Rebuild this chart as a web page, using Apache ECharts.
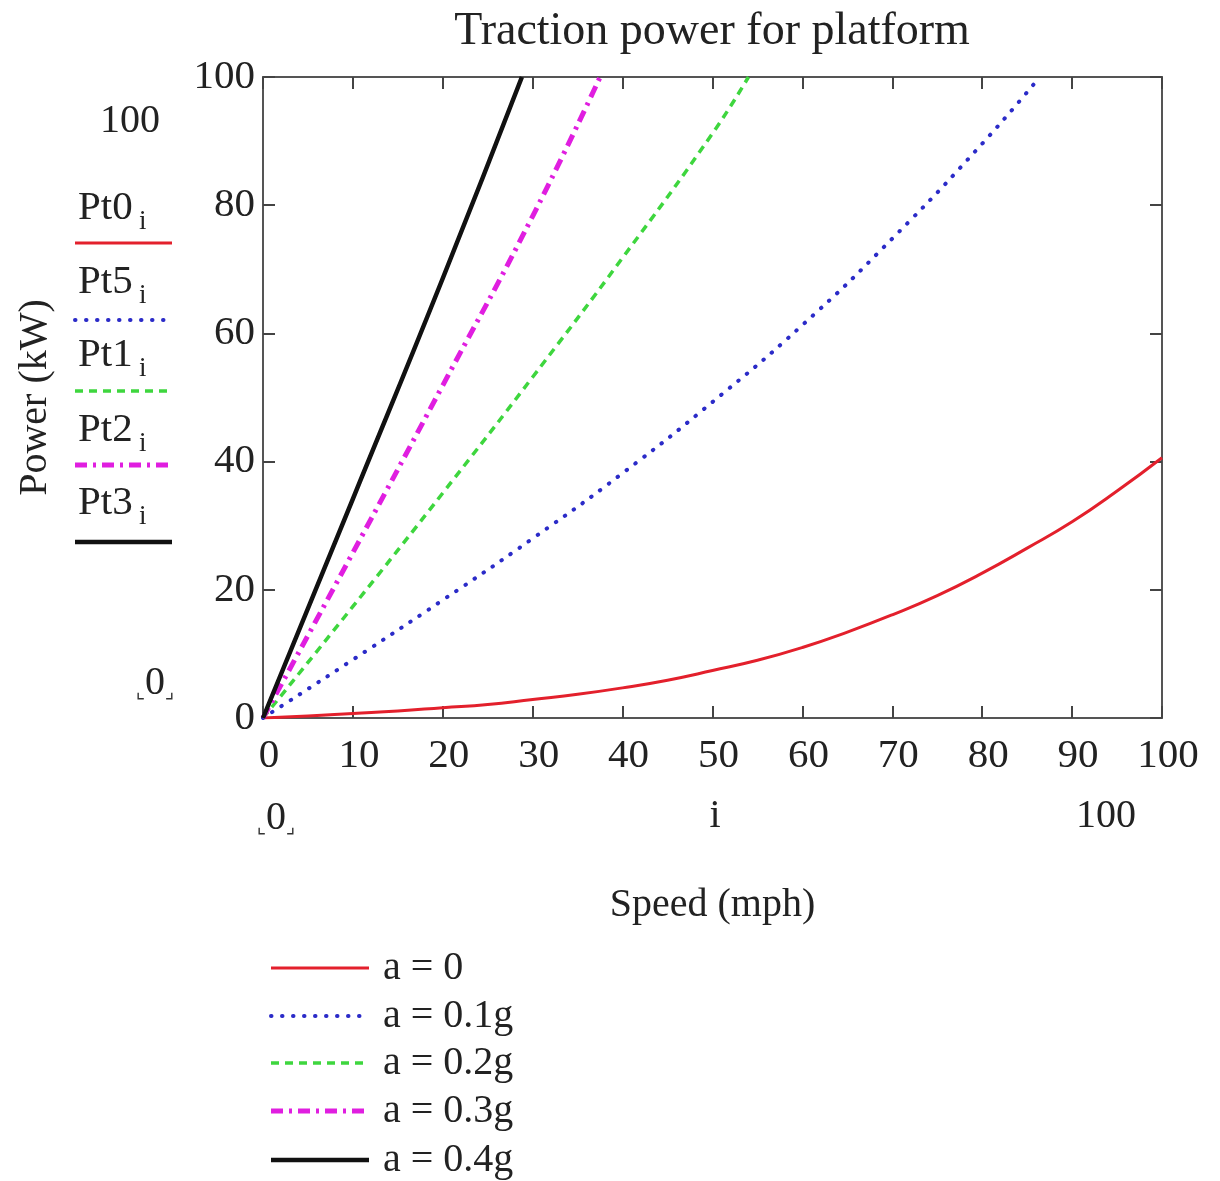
<!DOCTYPE html>
<html>
<head>
<meta charset="utf-8">
<title>Traction power for platform</title>
<script src="https://cdn.jsdelivr.net/npm/echarts@6/dist/echarts.min.js"></script>
<style>
html,body{margin:0;padding:0;background:#fff;}
#chart{width:1220px;height:1181px;}
</style>
</head>
<body>
<div id="chart"></div>
<script>
// speed (mph) / power (kW)
var speed0 = [0,5,10,15,20,25,30,35,40,45,50,55,60,65,70,75,80,85,90,95,100];
var pt0 = [0,0.3,0.7,1.1,1.6,2.1,2.9,3.7,4.7,5.9,7.4,9.0,11.0,13.4,16.1,19.1,22.6,26.5,30.6,35.4,40.6];
var speed5 = [0,10,20,30,40,50,60,70,80,86.4];
var pt5 = [0,9.1,18.4,28.0,38.2,49.3,61.3,74.8,89.6,100];
var speed1 = [0,10,20,30,40,50,54];
var pt1 = [0,17.4,35.1,53.2,71.8,91.2,100];
var speed2 = [0,10,20,30,37.5];
var pt2 = [0,25.8,51.9,78.3,100];
var speed3 = [0,10,20,28.8];
var pt3 = [0,34.2,68.6,100];
var names = ['a = 0','a = 0.1g','a = 0.2g','a = 0.3g','a = 0.4g'];
var ptLabels = ['Pt0','Pt5','Pt1','Pt2','Pt3'];
var colors = ['#e3202c','#2b2bc8','#3ed63e','#e01ee0','#111111'];

var FONT = '"Liberation Serif","DejaVu Serif",serif';

function pairs(xs, ys){
	var out = [];
	for(var i=0;i<xs.length;i++){
		out.push([xs[i], ys[i]]);
	}
	return out;
}

var styles = [
	{width:3, type:'solid', cap:'butt'},
	{width:4, type:[0.5,10.5], cap:'round'},
	{width:3.5, type:[8,6], cap:'butt'},
	{width:5, type:[12,6,3,6], cap:'butt'},
	{width:4.5, type:'solid', cap:'butt'}
];
var sets = [[speed0,pt0],[speed5,pt5],[speed1,pt1],[speed2,pt2],[speed3,pt3]];
var Series = [];
for(var k=0;k<sets.length;k++){
	Series.push({
		name: names[k],
		type: 'line',
		xAxisIndex: 0,
		yAxisIndex: 0,
		smooth: true,
		showSymbol: false,
		symbol: 'none',
		animation: false,
		data: pairs(sets[k][0], sets[k][1]),
		itemStyle: {color: colors[k]},
		lineStyle: {color: colors[k], width: styles[k].width, type: styles[k].type, cap: styles[k].cap}
	});
}

var axisLine = {show:true, onZero:false, lineStyle:{color:'#555', width:2}};
var tick = {show:true, inside:true, length:12, lineStyle:{color:'#444', width:2}};

function legendLine(x1, x2, y, k){
	return {type:'line', shape:{x1:x1, y1:y, x2:x2, y2:y},
		style:{stroke:colors[k], lineWidth:styles[k].width, lineCap:styles[k].cap,
			lineDash: styles[k].type==='solid' ? null : styles[k].type}};
}
function label(txt, x, y, size, align){
	return {type:'text', x:x, y:y, style:{text:txt, font:size+'px '+FONT, fill:'#222',
		textAlign:align || 'center', textVerticalAlign:'middle'}};
}

var ptTextY = [208,282,355,430,503];
var ptLineY = [243,320,391,465,542];
var legY = [968,1016,1063,1111,1160];
var graphics = [];
graphics.push(label('Traction power for platform', 712, 32, 46));
graphics.push(label('100', 130, 121, 40));
for(var j=0;j<ptLabels.length;j++){
	graphics.push(label(ptLabels[j], 78, ptTextY[j], 41, 'left'));
	graphics.push(label('i', 139, ptTextY[j]+14, 27, 'left'));
	graphics.push(legendLine(75, 172, ptLineY[j], j));
	graphics.push(legendLine(271, 369, legY[j], j));
	graphics.push(label(names[j], 383, legY[j], 40, 'left'));
}
function bracketZero(x, y){
	return {type:'text', x:x, y:y, style:{
		text:'{b|⌞}0{b|⌟}', textAlign:'center', textVerticalAlign:'middle',
		rich:{b:{fontSize:20, fontFamily:'"DejaVu Sans"', fill:'#333', verticalAlign:'bottom'}},
		font:'40px '+FONT, fill:'#222'}};
}
graphics.push(bracketZero(155,683));
graphics.push(bracketZero(276,818));
graphics.push(label('i', 715, 816, 40));
graphics.push(label('100', 1106, 816, 40));

var chart = echarts.init(document.getElementById('chart'));
var option = {
	backgroundColor: '#fff',
	animation: false,
	grid: {left:263, right:58, top:77, bottom:463, containLabel:false, outerBoundsMode:'none'},
	xAxis: [{
		type: 'value', min: 0, max: 100, interval: 10, position: 'bottom',
		name: 'Speed (mph)', nameLocation: 'middle', nameGap: 167,
		nameTextStyle: {fontFamily: FONT, fontSize: 40, color: '#222'},
		axisLine: axisLine, axisTick: tick, splitLine: {show:false},
		axisLabel: {fontFamily: FONT, fontSize: 41, color: '#222', margin: 18, padding:[0,0,0,12]}
	},{
		type: 'value', min: 0, max: 100, interval: 10, position: 'top',
		axisLine: axisLine, axisTick: tick, splitLine: {show:false}, axisLabel: {show:false}
	}],
	yAxis: [{
		type: 'value', min: 0, max: 100, interval: 20, position: 'left',
		name: 'Power (kW)', nameLocation: 'middle', nameGap: 208, nameRotate: 90,
		nameTextStyle: {fontFamily: FONT, fontSize: 40, color: '#222'},
		axisLine: axisLine, axisTick: tick, splitLine: {show:false},
		axisLabel: {fontFamily: FONT, fontSize: 41, color: '#222', margin: 8}
	},{
		type: 'value', min: 0, max: 100, interval: 20, position: 'right',
		axisLine: axisLine, axisTick: tick, splitLine: {show:false}, axisLabel: {show:false}
	}],
	series: Series,
	graphic: graphics
};
chart.setOption(option);
</script>
</body>
</html>
